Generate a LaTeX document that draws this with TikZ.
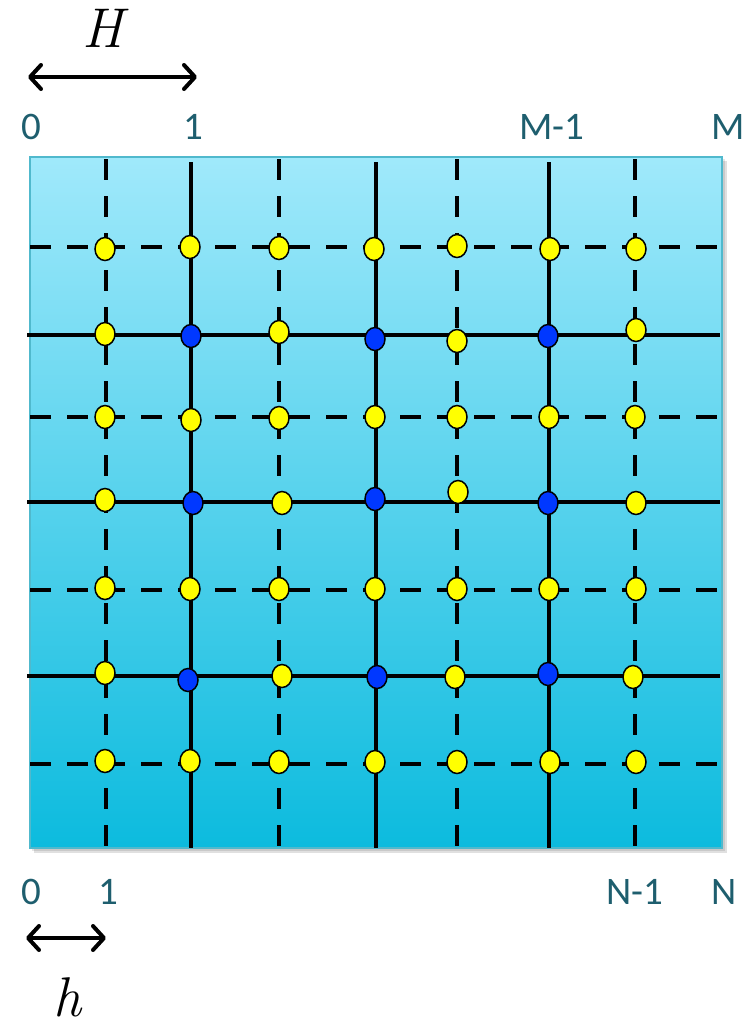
\RequirePackage{fix-cm}
\documentclass[tikz,border=0pt]{standalone}
\usepackage{fontspec}
\newfontfamily\labfont{Carlito}
\usetikzlibrary{arrows.meta,shadows,shapes.geometric}
\definecolor{labcol}{RGB}{30,94,110}
\definecolor{topcol}{RGB}{160,233,251}
\definecolor{botcol}{RGB}{12,187,222}
\definecolor{edgecol}{RGB}{80,185,205}
\definecolor{dotblue}{RGB}{0,56,255}
\definecolor{dotyellow}{RGB}{255,255,0}
\tikzset{
  lab/.style={text=labcol,font=\labfont\fontsize{39}{44}\selectfont,inner sep=0pt},
  mathlab/.style={font=\fontsize{56}{60}\selectfont\itshape,inner sep=0pt},
  solidline/.style={line width=4.3pt,black},
  dashline/.style={line width=4.3pt,black,dash pattern=on 21pt off 16pt},
  ydot/.style={ellipse,draw=black,line width=1.5pt,fill=dotyellow,minimum width=20pt,minimum height=23pt,inner sep=0pt},
  bdot/.style={ydot,fill=dotblue},
  dimarrow/.style={line width=4pt,{Straight Barb[length=11pt,width=24pt,line cap=round,line join=round]}-{Straight Barb[length=11pt,width=24pt,line cap=round,line join=round]}},
}
\begin{document}
\begin{tikzpicture}[x=1pt,y=-1pt]
\useasboundingbox (0,0) rectangle (755,1026);
% shadow
\fill[black,opacity=0.12] (34,161) rectangle (727,853);
\fill[black,opacity=0.10] (32,159) rectangle (725,851);
% square
\shade[top color=topcol,bottom color=botcol] (30,157) rectangle (722,848);
\draw[edgecol,line width=1.5pt] (30,157) rectangle (722,848);
% vertical lines
\draw[dashline] (106,159) -- (106,848);
\draw[solidline] (191,162) -- (191,848);
\draw[dashline] (279,159) -- (279,848);
\draw[solidline] (376,162) -- (376,848);
\draw[dashline] (457,159) -- (457,848);
\draw[solidline] (549,162) -- (549,848);
\draw[dashline] (635,159) -- (635,848);
% horizontal lines
\draw[dashline] (30,247) -- (722,247);
\draw[solidline] (27,335) -- (720,335);
\draw[dashline] (30,417) -- (722,417);
\draw[solidline] (27,502) -- (720,502);
\draw[dashline] (30,590) -- (722,590);
\draw[solidline] (27,676) -- (720,676);
\draw[dashline] (30,764) -- (722,764);
% dots row 1
\node[ydot] (d11) at (105,249) {};
\node[ydot] (d12) at (190,247) {};
\node[ydot] (d13) at (279,248) {};
\node[ydot] (d14) at (374,249) {};
\node[ydot] (d15) at (457,246) {};
\node[ydot] (d16) at (550,249) {};
\node[ydot] (d17) at (636,249) {};
% row 2
\node[ydot] (d21) at (105,334) {};
\node[bdot] (d22) at (191,336) {};
\node[ydot] (d23) at (279,332) {};
\node[bdot] (d24) at (375,339) {};
\node[ydot] (d25) at (457,341) {};
\node[bdot] (d26) at (548,336) {};
\node[ydot] (d27) at (636,330) {};
% row 3
\node[ydot] (d31) at (105,417) {};
\node[ydot] (d32) at (191,420) {};
\node[ydot] (d33) at (279,418) {};
\node[ydot] (d34) at (375,417) {};
\node[ydot] (d35) at (457,417) {};
\node[ydot] (d36) at (549,417) {};
\node[ydot] (d37) at (635,417) {};
% row 4
\node[ydot] (d41) at (105,500) {};
\node[bdot] (d42) at (193,503) {};
\node[ydot] (d43) at (282,503) {};
\node[bdot] (d44) at (375,499) {};
\node[ydot] (d45) at (458,492) {};
\node[bdot] (d46) at (548,503) {};
\node[ydot] (d47) at (636,503) {};
% row 5
\node[ydot] (d51) at (105,588) {};
\node[ydot] (d52) at (190,589) {};
\node[ydot] (d53) at (279,589) {};
\node[ydot] (d54) at (375,589) {};
\node[ydot] (d55) at (457,589) {};
\node[ydot] (d56) at (549,589) {};
\node[ydot] (d57) at (636,589) {};
% row 6
\node[ydot] (d61) at (105,673) {};
\node[bdot] (d62) at (188,680) {};
\node[ydot] (d63) at (282,676) {};
\node[bdot] (d64) at (377,677) {};
\node[ydot] (d65) at (455,677) {};
\node[bdot] (d66) at (548,674) {};
\node[ydot] (d67) at (633,677) {};
% row 7
\node[ydot] (d71) at (105,761) {};
\node[ydot] (d72) at (190,761) {};
\node[ydot] (d73) at (279,762) {};
\node[ydot] (d74) at (375,762) {};
\node[ydot] (d75) at (457,762) {};
\node[ydot] (d76) at (550,762) {};
\node[ydot] (d77) at (636,762) {};
% top labels
\node[lab] (t0) at (31,127) {0};
\node[lab] (t1) at (193,127) {1};
\node[lab] (tm1) at (552,127) {M-1};
\node[lab] (tm) at (728,127) {M};
% bottom labels
\node[lab] (b0) at (31,892) {0};
\node[lab] (b1) at (108,892) {1};
\node[lab] (bn1) at (635,892) {N-1};
\node[lab] (bn) at (724,892) {N};
% H arrow
\node[mathlab,anchor=base] (Hl) at (103,47) {H};
\coordinate (Ha) at (28,77);
\coordinate (Hb) at (197,77);
\draw[dimarrow] (Ha) -- (Hb);
% h arrow
\node[mathlab,anchor=base] (hl) at (67,1016) {h};
\coordinate (ha) at (26,938);
\coordinate (hb) at (106,938);
\draw[dimarrow] (ha) -- (hb);
\end{tikzpicture}
\end{document}
